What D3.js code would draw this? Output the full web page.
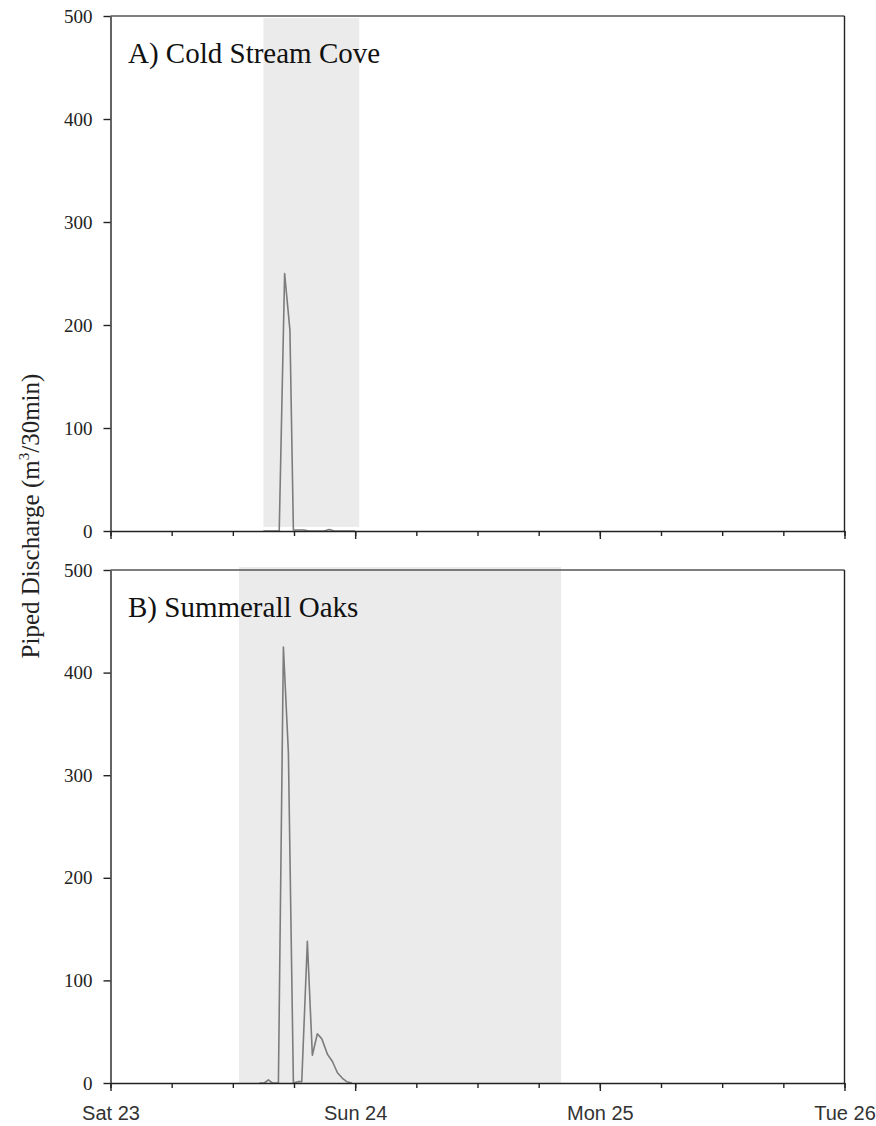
<!DOCTYPE html>
<html>
<head>
<meta charset="utf-8">
<script src="https://cdn.jsdelivr.net/npm/d3@7"></script>
<style>
  body { margin: 0; background: #fff; }
  svg { display: block; }
</style>
</head>
<body>
<svg id="chart"></svg>
<script>
// Canvas
const width = 876;
const height = 1126;

// Time axis: Sat 23 00:00 -> Tue 26 00:00
const startDate = new Date(2017, 8, 23);
const dayLabels = ["Sat 23", "Sun 24", "Mon 25", "Tue 26"];
const yTicks = [0, 100, 200, 300, 400, 500];

// Panel A - Cold Stream Cove (hours since Sat 00:00, m3/30min)
const coldHours  = [15.0, 16.55, 17.08, 17.6, 17.94, 18.45, 18.95, 19.45, 20.95, 21.45, 21.95, 24.0];
const coldValues = [0,    0,     250,   195,  1,     1,     1,     0,     0,     1.5,   0,     0];

// Panel B - Summerall Oaks
const oaksHours  = [14.6, 15.09, 15.49, 15.88, 16.47, 16.96, 17.45, 17.94, 18.4, 18.76, 19.31, 19.8, 20.29, 20.73, 21.28, 21.77, 22.26, 22.75, 23.18, 23.67];
const oaksValues = [0,    0,     3,     0,     0,     425,   322,   0,     1.3,  1.3,   138,   27,   48,    43,    28,    21,    10,    4.6,   1.3,   0];

// Shaded rain periods (hours) and their vertical extent (data units)
const panelTitles = ["A) Cold Stream Cove", "B) Summerall Oaks"];
const shadeStart  = [15.0, 12.6];
const shadeEnd    = [24.4, 44.2];
const shadeLow    = [4, 0];
const shadeHigh   = [498, 503];

const hoursToDate = h => new Date(startDate.getTime() + h * 3600 * 1000);

const svg = d3.select("#chart")
    .attr("width", width)
    .attr("height", height);

const x = d3.scaleTime()
    .domain([startDate, hoursToDate(72)])
    .range([110.5, 844.5]);

const panels = [
    { top: 16, bottom: 531, hours: coldHours, values: coldValues, labels: false },
    { top: 570, bottom: 1083, hours: oaksHours, values: oaksValues, labels: true }
];

panels.forEach((p, i) => {
    const y = d3.scaleLinear().domain([0, 500]).range([p.bottom, p.top]);
    const g = svg.append("g");

    // rain shading
    g.append("rect")
        .attr("x", x(hoursToDate(shadeStart[i])))
        .attr("width", x(hoursToDate(shadeEnd[i])) - x(hoursToDate(shadeStart[i])))
        .attr("y", y(shadeHigh[i]))
        .attr("height", y(shadeLow[i]) - y(shadeHigh[i]))
        .attr("fill", "#ebebeb");

    // title
    g.append("text")
        .attr("x", 128)
        .attr("y", p.top + 47)
        .attr("font-family", "'Liberation Serif', 'Times New Roman', serif")
        .attr("font-size", 29)
        .attr("fill", "#111")
        .text(panelTitles[i]);

    // frame: top and right
    g.append("line")
        .attr("x1", x.range()[0]).attr("x2", x.range()[1])
        .attr("y1", p.top).attr("y2", p.top)
        .attr("stroke", "#555").attr("stroke-width", 1.6);
    g.append("line")
        .attr("x1", x.range()[1]).attr("x2", x.range()[1])
        .attr("y1", p.top).attr("y2", p.bottom)
        .attr("stroke", "#222").attr("stroke-width", 1.4);

    // data line
    const line = d3.line()
        .x((d, k) => x(hoursToDate(p.hours[k])))
        .y(d => y(d));
    g.append("path")
        .datum(p.values)
        .attr("d", line)
        .attr("fill", "none")
        .attr("stroke", "#7c7c7c")
        .attr("stroke-width", 1.6)
        .attr("stroke-linejoin", "round");

    // minor x ticks every 6 hours
    g.append("g")
        .attr("transform", `translate(0,${p.bottom})`)
        .call(d3.axisBottom(x).ticks(d3.timeHour.every(6)).tickSize(5).tickSizeOuter(0).tickFormat(""))
        .call(a => a.selectAll("line").attr("stroke", "#222").attr("stroke-width", 1.4))
        .call(a => a.select(".domain").attr("stroke", "#222").attr("stroke-width", 1.4));

    // major x ticks at days
    const major = g.append("g")
        .attr("transform", `translate(0,${p.bottom})`)
        .call(d3.axisBottom(x).ticks(d3.timeDay.every(1)).tickSize(8).tickSizeOuter(0)
            .tickFormat((d, k) => p.labels ? dayLabels[k] : ""))
        .call(a => a.select(".domain").remove())
        .call(a => a.selectAll("line").attr("stroke", "#222").attr("stroke-width", 1.4));
    major.selectAll("text")
        .attr("y", 37)
        .attr("dy", null)
        .attr("fill", "#333")
        .attr("font-family", "'Liberation Sans', Arial, sans-serif")
        .attr("font-size", 20);

    // y axis
    g.append("g")
        .attr("transform", `translate(${x.range()[0]},0)`)
        .call(d3.axisLeft(y).tickValues(yTicks).tickSize(7).tickPadding(11).tickSizeOuter(0))
        .call(a => a.select(".domain").attr("stroke", "#222").attr("stroke-width", 1.4))
        .call(a => a.selectAll("line").attr("stroke", "#222").attr("stroke-width", 1.4))
        .call(a => a.selectAll("text")
            .attr("fill", "#222")
            .attr("font-family", "'Liberation Serif', 'Times New Roman', serif")
            .attr("font-size", 19));
});

// shared y-axis title
const yTitle = svg.append("text")
    .attr("transform", "translate(39,516) rotate(-90)")
    .attr("text-anchor", "middle")
    .attr("font-family", "'Liberation Serif', 'Times New Roman', serif")
    .attr("font-size", 25)
    .attr("fill", "#222");
yTitle.append("tspan").text("Piped Discharge (m");
yTitle.append("tspan").attr("font-size", 15).attr("dy", -10).text("3");
yTitle.append("tspan").attr("dy", 10).text("/30min)");
</script>
</body>
</html>
